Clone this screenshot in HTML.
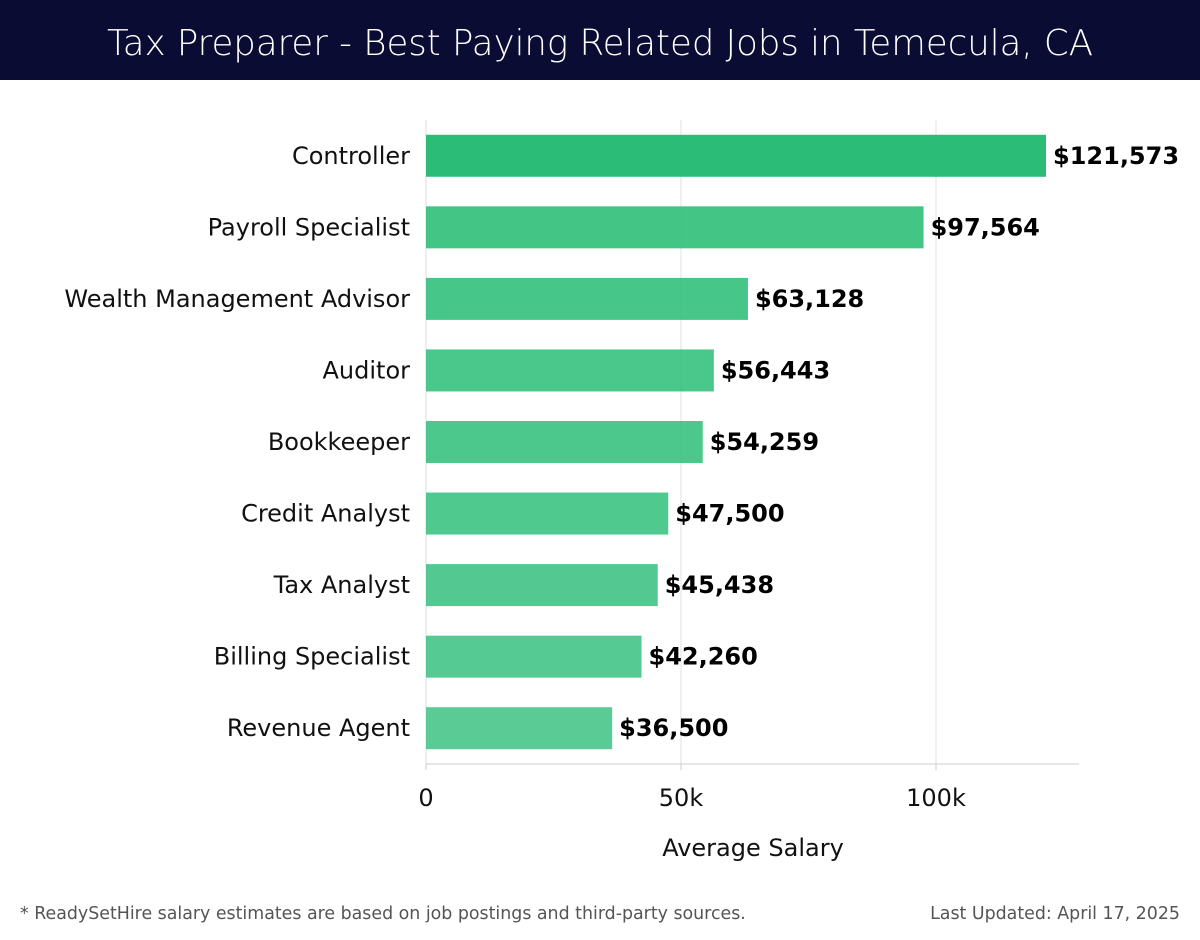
<!DOCTYPE html>
<html><head><meta charset="utf-8"><style>
body{margin:0;width:1200px;height:940px;background:#fff;font-family:"Liberation Sans","DejaVu Sans",sans-serif;overflow:hidden}
#hdr{position:absolute;left:0;top:0;width:1200px;height:80px;background:#0b0c33;color:#fff;font-size:35.5px;text-align:center;line-height:88px;font-family:"DejaVu Sans","Liberation Sans",sans-serif;font-weight:300}
svg{position:absolute;left:0;top:0}
</style></head><body>
<div id="hdr">Tax Preparer - Best Paying Related Jobs in Temecula, CA</div>
<svg id="chart" width="1200" height="940"></svg>
<script>
const categories=["Controller","Payroll Specialist","Wealth Management Advisor","Auditor","Bookkeeper","Credit Analyst","Tax Analyst","Billing Specialist","Revenue Agent"];
const salaries=[121573,97564,63128,56443,54259,47500,45438,42260,36500];
const valueLabels=["$121,573","$97,564","$63,128","$56,443","$54,259","$47,500","$45,438","$42,260","$36,500"];
const tickValues=[0,50000,100000];
const tickLabels=["0","50k","100k"];

const NS="http://www.w3.org/2000/svg";
const svg=document.getElementById('chart');
const x0=426,xPerUnit=255/50000,plotTop=120,plotBottom=764,plotRight=1079;
const band=(plotBottom-plotTop)/categories.length;
const xs=v=>x0+v*xPerUnit;
const yc=i=>plotTop+band*(i+0.5);
function mk(t,a){const e=document.createElementNS(NS,t);for(const k in a)e.setAttribute(k,a[k]);svg.appendChild(e);return e;}
const font='"DejaVu Sans","Liberation Sans",sans-serif';
tickValues.forEach((v,i)=>{
  if(v>0){const g=mk('line',{x1:xs(v),x2:xs(v),y1:plotTop,y2:plotBottom,stroke:'#e2e2e2','stroke-width':1});
  
  }
  const tm=mk('line',{x1:xs(v),x2:xs(v),y1:plotBottom,y2:plotBottom+6,stroke:'#ccc'});
  
  
  const t=mk('text',{x:xs(v),y:806,'text-anchor':'middle','font-size':24,fill:'#111','font-family':font});
  t.textContent=tickLabels[i];
  
  
});
const yl=mk('line',{x1:x0,x2:x0,y1:plotTop,y2:plotBottom,stroke:'#ddd'});


const xl=mk('line',{x1:x0,x2:plotRight,y1:plotBottom,y2:plotBottom,stroke:'#ccc'});


const bh=42;
categories.forEach((c,i)=>{
  const y=yc(i);
  const op=i===0?1:Math.max(0.78,0.9-i*0.015);
  const r=mk('rect',{x:x0,y:y-bh/2,width:xs(salaries[i])-x0,height:bh,fill:'#2bbd77','fill-opacity':op});
  
  
  const l=mk('text',{x:410,y:y+8,'text-anchor':'end','font-size':24,fill:'#111','font-family':font});
  l.textContent=c;
  
  
  const v=mk('text',{x:xs(salaries[i])+7,y:y+8,'font-size':24,'font-weight':'bold',fill:'#000','font-family':font});
  v.textContent=valueLabels[i];
  
  
});
const at=mk('text',{x:753,y:856,'text-anchor':'middle','font-size':24,fill:'#111','font-family':font});
at.textContent='Average Salary';


const f1=mk('text',{x:20,y:919,'font-size':17.4,fill:'#555','font-family':font});
f1.textContent='* ReadySetHire salary estimates are based on job postings and third-party sources.';


const f2=mk('text',{x:1180,y:919,'text-anchor':'end','font-size':17.4,fill:'#555','font-family':font});
f2.textContent='Last Updated: April 17, 2025';


</script>
</body></html>
